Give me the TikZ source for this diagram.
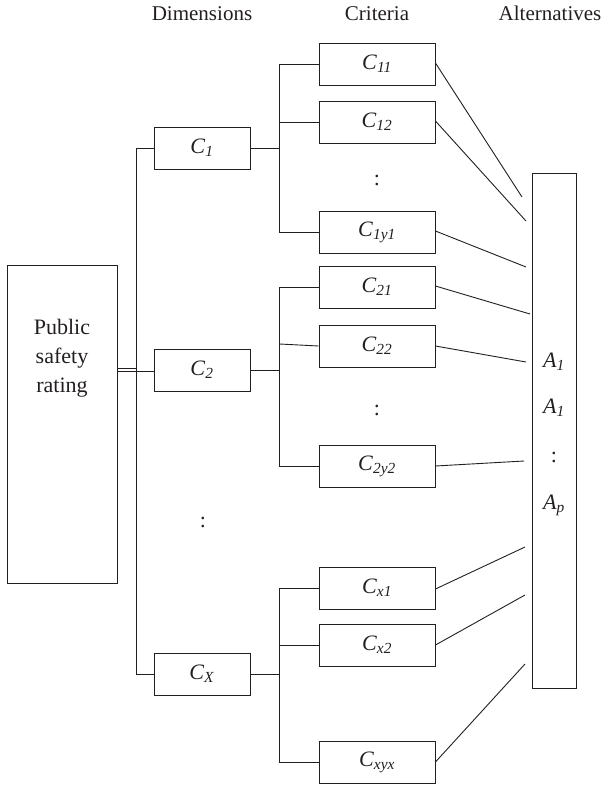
\documentclass[tikz,border=0pt]{standalone}
\usepackage{fontspec}
\setmainfont{Liberation Serif}
\usetikzlibrary{calc}
\definecolor{ink}{HTML}{231F20}
\newcommand{\cc}[2]{\textit{#1}\textsubscript{\textit{#2}}}
\begin{document}
\begin{tikzpicture}[x=1pt,y=-1pt,
  every node/.style={font=\fontsize{22}{29}\selectfont, text=ink},
  box/.style={draw=ink, line width=0.9pt, inner sep=0pt, anchor=center},
  dimbox/.style={box, minimum width=96pt, minimum height=42pt},
  critbox/.style={box, minimum width=116pt, minimum height=42pt},
  link/.style={draw=ink, line width=0.9pt},
  head/.style={anchor=base, inner sep=0pt, font=\fontsize{21}{26}\selectfont}]
\useasboundingbox (0,0) rectangle (607,788);

% column headings
\node[head] (hdim) at (202,20) {Dimensions};
\node[head] (hcrit) at (377,20) {Criteria};
\node[head] (halt) at (550,20) {Alternatives};

% goal: tall box, caption set in its upper half
\node[box, minimum width=110pt, minimum height=318pt] (goal) at (62,424) {};
\node[align=center, inner sep=0pt] (goaltext) at (62,358) {Public\\safety\\rating};

% dimensions
\node[dimbox] (C1) at (202,148) {\cc{C}{1}};
\node[dimbox] (C2) at (202,370) {\cc{C}{2}};
\node[dimbox] (CX) at (202,674) {\cc{C}{X}};
\node (dimdots) at (203,522) {:};

% criteria
\node[critbox] (C11) at (377,64) {\cc{C}{11}};
\node[critbox] (C12) at (377,122) {\cc{C}{12}};
\node (d1) at (377,180) {:};
\node[critbox] (C1y) at (377,232) {\cc{C}{1y1}};
\node[critbox] (C21) at (377,287) {\cc{C}{21}};
\node[critbox] (C22) at (377,346) {\cc{C}{22}};
\node (d2) at (377,410) {:};
\node[critbox] (C2y) at (377,466) {\cc{C}{2y2}};
\node[critbox] (Cx1) at (377,588) {\cc{C}{x1}};
\node[critbox] (Cx2) at (377,645) {\cc{C}{x2}};
\node[critbox] (Cxy) at (377,762) {\cc{C}{xyx}};

% alternatives
\node[box, minimum width=44pt, minimum height=515pt] (alt) at (554,430.5) {};
\node (a1) at (554,362) {\cc{A}{1}};
\node (a2) at (554,408) {\cc{A}{1}};
\node (a3) at (554,457) {:};
\node (ap) at (554,505) {\cc{A}{p}};

% free ends of the links into the alternatives
\coordinate (e11) at (522,197);
\coordinate (e12) at (526,221);
\coordinate (e1y) at (526,267);
\coordinate (e21) at (530,314);
\coordinate (e22) at (526,362);
\coordinate (e2y) at (524,461);
\coordinate (ex1) at (525,547);
\coordinate (ex2) at (525,595);
\coordinate (exy) at (525,664);

% goal to dimensions: a doubled stroke at the level of C2
\coordinate (gout) at (goal.east |- C2.west);
\draw[link] ([yshift=-1.5pt]gout) -- ++(20,0);
\draw[link] ([yshift=2pt]gout) -- ++(20,0);
\draw[link] (C1.west) -- ++(-17,0) |- (CX.west);
\draw[link] ([yshift=-1pt]C2.west) -- ++(-17,0);

% dimensions to criteria
\draw[link] (C1.east) -- ++(30,0);
\draw[link] (C11.west) -- ++(-39,0) |- (C1y.west);
\draw[link] (C12.west) -- ++(-39,0);
\draw[link] (C2.east) -- ++(30,0);
\draw[link] (C21.west) -- ++(-39,0) |- (C2y.west);
\draw[link] (C22.west) -- ++(-39,-2);
\draw[link] (CX.east) -- ++(30,0);
\draw[link] (Cx1.west) -- ++(-39,0) |- (Cxy.west);
\draw[link] (Cx2.west) -- ++(-39,0);

% criteria to alternatives
\draw[link] ([yshift=1pt]C11.east) -- (e11);
\draw[link] ([yshift=1pt]C12.east) -- (e12);
\draw[link] ([yshift=1pt]C1y.east) -- (e1y);
\draw[link] ([yshift=1pt]C21.east) -- (e21);
\draw[link] (C22.east) -- (e22);
\draw[link] (C2y.east) -- (e2y);
\draw[link] ([yshift=-1pt]Cx1.east) -- (ex1);
\draw[link] (Cx2.east) -- (ex2);
\draw[link] (Cxy.east) -- (exy);
\end{tikzpicture}
\end{document}
